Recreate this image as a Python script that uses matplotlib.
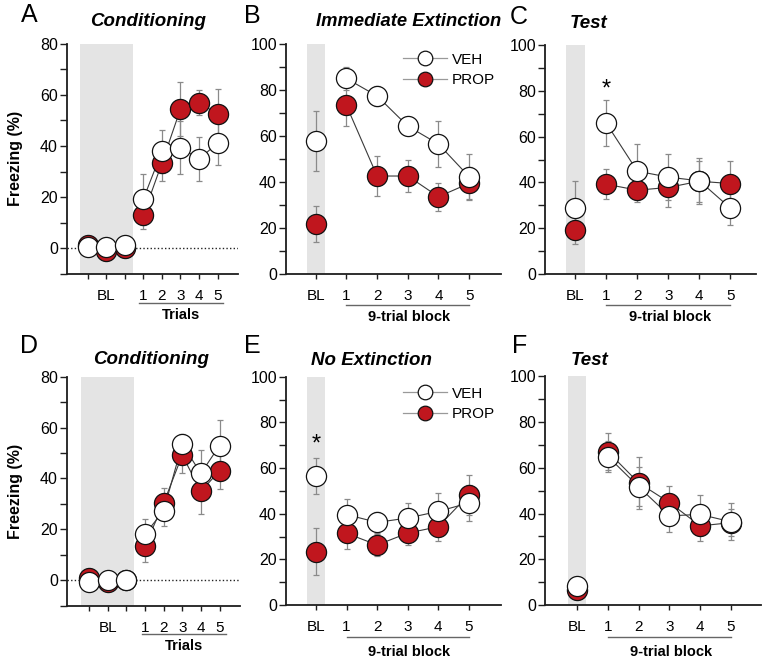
import matplotlib
matplotlib.use("Agg")
import matplotlib.pyplot as plt
import matplotlib.transforms as mtransforms
from matplotlib.lines import Line2D

plt.rcParams['font.family'] = ['Liberation Sans', 'DejaVu Sans']

# ---------------- data ----------------
# Conditioning (A, D): 3 baseline samples + 5 trials
cond_bl_x = [0, 1, 2]
cond_tr_x = [3, 4, 5, 6, 7]
cond_ticklabels = ['', 'BL', '', '1', '2', '3', '4', '5']

A_veh_bl = [0.5, 0.5, 1.0]
A_prop_bl = [1.0, -1.0, 0.0]
A_veh = [19.2, 37.9, 39.4, 34.9, 41.1]
A_veh_err = [10.0, 8.5, 10.5, 8.5, 8.5]
A_prop = [13.0, 33.3, 54.5, 57.0, 52.5]
A_prop_err = [5.6, 7.0, 10.5, 5.0, 10.0]

D_veh_bl = [-0.5, 0.0, 0.0]
D_prop_bl = [1.0, -0.5, 0.0]
D_veh = [18.1, 27.3, 53.5, 42.0, 52.9]
D_veh_err = [6.0, 6.0, 4.0, 9.3, 10.0]
D_prop = [13.5, 30.3, 49.2, 34.9, 43.0]
D_prop_err = [6.5, 6.0, 7.0, 9.0, 7.2]

# Block panels (B, C, E, F): BL + 5 nine-trial blocks
blk_bl_x = [0]
blk_x = [1, 2, 3, 4, 5]
blk_ticklabels = ['BL', '1', '2', '3', '4', '5']

B_veh_bl, B_veh_bl_err = [58.0], [13.0]
B_prop_bl, B_prop_bl_err = [21.7], [8.0]
B_veh = [85.0, 77.4, 64.3, 56.5, 42.3]
B_veh_err = [5.0, 4.5, 2.0, 10.0, 10.0]
B_prop = [73.3, 42.6, 42.6, 33.6, 39.4]
B_prop_err = [9.0, 8.7, 7.0, 6.0, 7.0]

C_veh_bl, C_veh_bl_err = [28.8], [11.6]
C_prop_bl, C_prop_bl_err = [19.3], [6.0]
C_veh = [65.8, 44.9, 42.3, 40.7, 28.8]
C_veh_err = [10.0, 12.0, 10.0, 10.0, 7.5]
C_prop = [39.2, 36.6, 37.8, 40.5, 39.5]
C_prop_err = [6.5, 5.0, 8.5, 9.0, 10.0]

E_veh_bl, E_veh_bl_err = [56.6], [8.0]
E_prop_bl, E_prop_bl_err = [23.4], [10.3]
E_veh = [39.6, 36.2, 38.1, 41.0, 44.7]
E_veh_err = [7.0, 4.7, 6.6, 8.0, 8.0]
E_prop = [31.4, 26.3, 31.5, 34.3, 48.3]
E_prop_err = [7.0, 4.7, 5.0, 6.4, 8.8]

F_veh_bl, F_veh_bl_err = [8.2], [3.0]
F_prop_bl, F_prop_bl_err = [6.5], [3.0]
F_veh = [64.9, 51.7, 39.0, 39.6, 36.4]
F_veh_err = [6.6, 8.6, 7.0, 8.5, 8.0]
F_prop = [67.0, 53.4, 44.8, 34.6, 36.0]
F_prop_err = [8.0, 11.5, 7.4, 6.5, 6.0]

# ---------------- style ----------------
RED = '#C0161E'
ERR = '#8a8a8a'
LINE = '#3a3a3a'
SPINE = '#1e1e1e'
BAND = '#e4e4e4'
MS = 14.5
MEW = 0.9

W, H = 763, 659
fig = plt.figure(figsize=(W / 100, H / 100), dpi=100)


def add_ax(x0, x1, ytop, ybot):
    return fig.add_axes([x0 / W, 1 - ybot / H, (x1 - x0) / W, (ybot - ytop) / H])


def style_axis(ax, ylim, major, minor, xticks, xlabels):
    ax.set_ylim(*ylim)
    ax.set_yticks(major)
    ax.set_yticks(minor, minor=True)
    ax.set_xticks(xticks)
    ax.set_xticklabels(xlabels)
    for s in ['top', 'right']:
        ax.spines[s].set_visible(False)
    for s in ['left', 'bottom']:
        ax.spines[s].set_linewidth(1.3)
        ax.spines[s].set_color(SPINE)
    ax.tick_params(axis='y', which='both', direction='out', length=4.8, width=1.0,
                   color=SPINE, labelsize=11.5, pad=1.5)
    ax.tick_params(axis='x', which='both', direction='out', length=3.6, width=1.0,
                   color=SPINE, labelsize=11, pad=7.5)
    ax.patch.set_alpha(0)


def series(ax, x, y, err, filled, connect=True):
    if err is not None:
        ax.errorbar(x, y, yerr=err, fmt='none', ecolor=ERR, elinewidth=0.9,
                    capsize=2.5, capthick=0.9, zorder=2)
    if connect and len(x) > 1:
        ax.plot(x, y, '-', color=LINE, lw=0.8, zorder=3)
    ax.plot(x, y, 'o', ms=MS, mfc=RED if filled else 'white', mec='#111111',
            mew=MEW, zorder=4 if filled else 5, linestyle='none')


def underline(ax, x0, x1, yl, yt, text, xt):
    tr = mtransforms.blended_transform_factory(ax.transData, ax.transAxes)
    ax.plot([x0, x1], [yl, yl], color='#666666', lw=1.0, transform=tr, clip_on=False)
    ax.text(xt, yt, text, transform=tr,
            ha='center', va='center', fontsize=10.5, fontweight='bold')


def legend(ax, x, y):
    h1 = Line2D([], [], color='#999999', lw=0.9, marker='o', ms=10.5, mfc='white',
                mec='#111111', mew=0.9)
    h2 = Line2D([], [], color='#999999', lw=0.9, marker='o', ms=10.5, mfc=RED,
                mec='#111111', mew=0.9)
    ax.legend([h1, h2], ['VEH', 'PROP'], loc='upper left', bbox_to_anchor=(x, y),
              frameon=False, borderpad=0, borderaxespad=0, handlelength=2.9,
              handletextpad=0.3, labelspacing=0.42, fontsize=11)


def title(ax, x, y, text, size=13.5):
    ax.text(x, y, text, transform=ax.transAxes, ha='center', va='center',
            fontsize=size, fontweight='bold', fontstyle='italic')


# ---------------- panel A ----------------
axA = add_ax(66.7, 238, 44, 273.5)
axA.set_xlim(-1.13, 8.1)
axA.axvspan(-0.43, 2.43, color=BAND, zorder=0, lw=0)
axA.axhline(0, color='#222222', lw=1.0, ls=(0, (1, 1.6)), zorder=1)
series(axA, cond_bl_x, A_prop_bl, None, True, connect=False)
series(axA, cond_bl_x, A_veh_bl, None, False, connect=False)
series(axA, cond_tr_x, A_prop, A_prop_err, True)
series(axA, cond_tr_x, A_veh, A_veh_err, False)
style_axis(axA, (-10, 80), [0, 20, 40, 60, 80], [-10, 10, 30, 50, 70],
           list(range(8)), cond_ticklabels)
underline(axA, 2.78, 7.27, -0.128, -0.183, 'Trials', 5.05)
title(axA, 0.475, 1.096, 'Conditioning')
axA.text(-0.299, 0.5, 'Freezing (%)', transform=axA.transAxes, rotation=90,
         ha='center', va='center', fontsize=11.5, fontweight='bold')

# ---------------- panel B ----------------
axB = add_ax(285.7, 500.7, 44, 274)
axB.set_xlim(-0.98, 6.03)
axB.axvspan(-0.3, 0.3, color=BAND, zorder=0, lw=0)
series(axB, blk_bl_x, B_prop_bl, B_prop_bl_err, True, connect=False)
series(axB, blk_bl_x, B_veh_bl, B_veh_bl_err, False, connect=False)
series(axB, blk_x, B_prop, B_prop_err, True)
series(axB, blk_x, B_veh, B_veh_err, False)
style_axis(axB, (0, 100), [0, 20, 40, 60, 80, 100], [10, 30, 50, 70, 90],
           list(range(6)), blk_ticklabels)
underline(axB, 1, 5, -0.135, -0.188, '9-trial block', 3.05)
title(axB, 0.573, 1.097, 'Immediate Extinction', 13.2)
legend(axB, 0.546, 0.962)

# ---------------- panel C ----------------
axC = add_ax(545, 755.7, 45, 274)
axC.set_xlim(-0.98, 5.82)
axC.axvspan(-0.3, 0.3, color=BAND, zorder=0, lw=0)
series(axC, blk_bl_x, C_prop_bl, C_prop_bl_err, True, connect=False)
series(axC, blk_bl_x, C_veh_bl, C_veh_bl_err, False, connect=False)
series(axC, blk_x, C_prop, C_prop_err, True)
series(axC, blk_x, C_veh, C_veh_err, False)
style_axis(axC, (0, 100), [0, 20, 40, 60, 80, 100], [10, 30, 50, 70, 90],
           list(range(6)), blk_ticklabels)
underline(axC, 1, 5, -0.135, -0.188, '9-trial block', 3.05)
title(axC, 0.206, 1.093, 'Test')
axC.text(1, 80.5, '*', ha='center', va='center', fontsize=17)

# ---------------- panel D ----------------
axD = add_ax(66.7, 240, 376.7, 605.7)
axD.set_xlim(-1.2, 8.1)
axD.axvspan(-0.43, 2.43, color=BAND, zorder=0, lw=0)
axD.axhline(0, color='#222222', lw=1.0, ls=(0, (1, 1.6)), zorder=1)
series(axD, cond_bl_x, D_prop_bl, None, True, connect=False)
series(axD, cond_bl_x, D_veh_bl, None, False, connect=False)
series(axD, cond_tr_x, D_prop, D_prop_err, True)
series(axD, cond_tr_x, D_veh, D_veh_err, False)
style_axis(axD, (-10, 80), [0, 20, 40, 60, 80], [-10, 10, 30, 50, 70],
           list(range(8)), cond_ticklabels)
underline(axD, 2.85, 7.35, -0.124, -0.177, 'Trials', 5.1)
title(axD, 0.489, 1.073, 'Conditioning')
axD.text(-0.295, 0.5, 'Freezing (%)', transform=axD.transAxes, rotation=90,
         ha='center', va='center', fontsize=11.5, fontweight='bold')

# ---------------- panel E ----------------
axE = add_ax(285.7, 500.7, 376.7, 605)
axE.set_xlim(-0.99, 6.04)
axE.axvspan(-0.3, 0.3, color=BAND, zorder=0, lw=0)
series(axE, blk_bl_x, E_prop_bl, E_prop_bl_err, True, connect=False)
series(axE, blk_bl_x, E_veh_bl, E_veh_bl_err, False, connect=False)
series(axE, blk_x, E_prop, E_prop_err, True)
series(axE, blk_x, E_veh, E_veh_err, False)
style_axis(axE, (0, 100), [0, 20, 40, 60, 80, 100], [10, 30, 50, 70, 90],
           list(range(6)), blk_ticklabels)
underline(axE, 1, 5, -0.141, -0.205, '9-trial block', 3.05)
title(axE, 0.397, 1.07, 'No Extinction')
legend(axE, 0.544, 0.957)
axE.text(0, 70.5, '*', ha='center', va='center', fontsize=17)

# ---------------- panel F ----------------
axF = add_ax(545, 761, 376.3, 605)
axF.set_xlim(-1.05, 5.98)
axF.axvspan(-0.3, 0.3, color=BAND, zorder=0, lw=0)
series(axF, blk_bl_x, F_prop_bl, F_prop_bl_err, True, connect=False)
series(axF, blk_bl_x, F_veh_bl, F_veh_bl_err, False, connect=False)
series(axF, blk_x, F_prop, F_prop_err, True)
series(axF, blk_x, F_veh, F_veh_err, False)
style_axis(axF, (0, 100), [0, 20, 40, 60, 80, 100], [10, 30, 50, 70, 90],
           list(range(6)), blk_ticklabels)
underline(axF, 1, 5, -0.141, -0.205, '9-trial block', 3.05)
title(axF, 0.207, 1.07, 'Test')

# ---------------- panel letters ----------------
for lab, (px, py) in zip('ABCDEF', [(29.5, 15.5), (252, 16), (519, 17),
                                      (29, 346), (252, 346), (520, 346)]):
    fig.text(px / W, 1 - py / H, lab, ha='center', va='center', fontsize=18)

fig.savefig('out.png', dpi=100)
